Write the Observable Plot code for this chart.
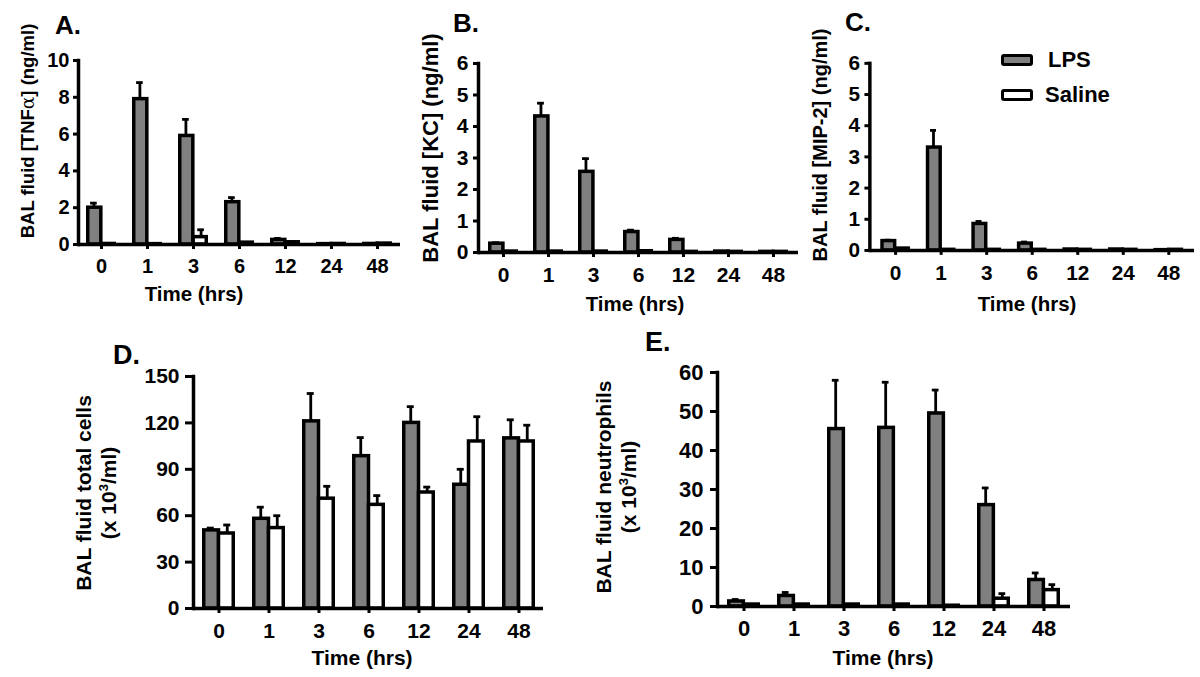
<!DOCTYPE html>
<html><head><meta charset="utf-8">
<script src="https://cdn.jsdelivr.net/npm/d3@7"></script>
<script src="https://cdn.jsdelivr.net/npm/@observablehq/plot@0.6"></script>
<style>
body{margin:0;background:#fff;}
#root{position:relative;width:1200px;height:677px;overflow:hidden;background:#fff;font-family:"Liberation Sans",Arial,sans-serif;font-weight:bold;color:#000;}
.abs{position:absolute;white-space:nowrap;line-height:1;}
.sup{font-size:0.62em;vertical-align:0.6em;line-height:0;}
</style></head><body><div id="root"></div>
<script>
// ---- data ----
const times = ["0","1","3","6","12","24","48"];

const tnfLps    = [2.0, 7.9, 5.9, 2.3, 0.25, 0.02, 0.03];
const tnfLpsErr = [0.25, 0.9, 0.9, 0.25, 0.08, 0, 0];
const tnfSal    = [0.03, 0.02, 0.4, 0.1, 0.12, 0.03, 0.05];
const tnfSalErr = [0, 0, 0.4, 0, 0.03, 0, 0];

const kcLps    = [0.28, 4.32, 2.56, 0.65, 0.4, 0.03, 0.02];
const kcLpsErr = [0.03, 0.42, 0.42, 0.06, 0.05, 0, 0];
const kcSal    = [0.03, 0.03, 0.03, 0.04, 0.02, 0.02, 0.02];
const kcSalErr = [0, 0, 0, 0, 0, 0, 0];

const mipLps    = [0.3, 3.3, 0.85, 0.22, 0.03, 0.03, 0.01];
const mipLpsErr = [0.03, 0.55, 0.08, 0.05, 0, 0, 0];
const mipSal    = [0.06, 0.02, 0.02, 0.02, 0.02, 0.02, 0.02];
const mipSalErr = [0, 0, 0, 0, 0, 0, 0];

const cellsLps    = [50.5, 58, 121, 98.5, 120, 80, 110];
const cellsLpsErr = [1.5, 7.5, 18, 12, 10.5, 10, 12];
const cellsSal    = [48.5, 52, 71, 67, 75, 108, 108];
const cellsSalErr = [5.5, 8, 8, 6, 3.5, 16, 10.5];

const neuLps    = [1.3, 2.7, 45.5, 45.8, 49.5, 26, 6.8];
const neuLpsErr = [0.5, 0.9, 12.5, 11.7, 6, 4.4, 1.8];
const neuSal    = [0.5, 0.5, 0.5, 0.5, 0.2, 2, 4.2];
const neuSalErr = [0, 0, 0, 0, 0, 1.3, 1.4];

const ticksA = [0, 2, 4, 6, 8, 10];
const ticksBC = [0, 1, 2, 3, 4, 5, 6];
const ticksD = [0, 30, 60, 90, 120, 150];
const ticksE = [0, 10, 20, 30, 40, 50, 60];

// ---- drawing ----
const root = document.getElementById("root");
const PAD = 0.34;
const SW = 3.5;

function panel(p) {
  const left = p.L - 62, top = p.T - 14;
  const width = p.R + 6 - left, height = p.B + 44 - top;
  const data = times.map((t, i) => ({time: t, lps: p.lps[i], lpsErr: p.lpsErr[i], sal: p.sal[i], salErr: p.salErr[i]}));
  const step = (p.R - p.L) / times.length, bw = step * (1 - PAD), half = bw / 2, q = half / 2, cap = 7;
  const lpsE = data.filter(d => d.lpsErr > 0), salE = data.filter(d => d.salErr > 0);
  const svg = Plot.plot({
    width, height,
    marginLeft: p.L - left, marginRight: width - (p.R - left),
    marginTop: p.T - top, marginBottom: height - (p.B - top),
    x: {type: "band", domain: times, paddingInner: PAD, paddingOuter: PAD / 2},
    y: {domain: [0, p.ymax]},
    style: {fontFamily: '"Liberation Sans", Arial, sans-serif', fontWeight: "bold", fontSize: p.fs + "px", color: "#000", background: "transparent", overflow: "visible"},
    marks: [
      Plot.barY(data, {x: "time", y: "lps", fill: "#808080", stroke: "#000", strokeWidth: SW, insetLeft: SW / 2, insetRight: half}),
      Plot.barY(data, {x: "time", y: "sal", fill: "#fff", stroke: "#000", strokeWidth: SW, insetLeft: half, insetRight: SW / 2}),
      Plot.ruleX(lpsE, {x: "time", y1: "lps", y2: d => d.lps + d.lpsErr, dx: -q, strokeWidth: 2.8}),
      Plot.ruleX(salE, {x: "time", y1: "sal", y2: d => d.sal + d.salErr, dx: q, strokeWidth: 2.8}),
      Plot.tickY(lpsE, {x: "time", y: d => d.lps + d.lpsErr, insetLeft: q - cap / 2, insetRight: bw - q - cap / 2, strokeWidth: 2.8}),
      Plot.tickY(salE, {x: "time", y: d => d.sal + d.salErr, insetLeft: half + q - cap / 2, insetRight: q - cap / 2, strokeWidth: 2.8}),
      Plot.ruleY([0], {strokeWidth: SW}),
      Plot.frame({anchor: "left", strokeWidth: SW}),
      Plot.axisY(p.yticks, {tickSize: p.yts, tickPadding: p.ytp, strokeWidth: 3, label: null}),
      Plot.axisX({tickSize: 5, tickPadding: p.xtp, strokeWidth: 3, label: null})
    ]
  });
  const wrap = document.createElement("div");
  wrap.style.position = "absolute";
  wrap.style.left = left + "px";
  wrap.style.top = top + "px";
  wrap.appendChild(svg);
  root.appendChild(wrap);
}

panel({L: 78, R: 400, T: 60, B: 244, ymax: 10, yticks: ticksA, fs: 20, yts: 5, ytp: 4, xtp: 9,
  lps: tnfLps, lpsErr: tnfLpsErr, sal: tnfSal, salErr: tnfSalErr});
panel({L: 478, R: 798, T: 63, B: 252, ymax: 6, yticks: ticksBC, fs: 21, yts: 5, ytp: 5, xtp: 10,
  lps: kcLps, lpsErr: kcLpsErr, sal: kcSal, salErr: kcSalErr});
panel({L: 870, R: 1198, T: 63, B: 252, ymax: 6, yticks: ticksBC, fs: 21, yts: 5, ytp: 5, xtp: 10,
  lps: mipLps, lpsErr: mipLpsErr, sal: mipSal, salErr: mipSalErr});
panel({L: 193, R: 543, T: 376, B: 608, ymax: 150, yticks: ticksD, fs: 21, yts: 8, ytp: 6, xtp: 10,
  lps: cellsLps, lpsErr: cellsLpsErr, sal: cellsSal, salErr: cellsSalErr});
panel({L: 717, R: 1070, T: 372, B: 606, ymax: 60, yticks: ticksE, fs: 22, yts: 7, ytp: 7, xtp: 9,
  lps: neuLps, lpsErr: neuLpsErr, sal: neuSal, salErr: neuSalErr});

function label(html, x, y, size, opts = {}) {
  const d = document.createElement("div");
  d.className = "abs";
  d.innerHTML = html;
  d.style.left = x + "px";
  d.style.top = y + "px";
  d.style.fontSize = size + "px";
  if (opts.lh) { d.style.lineHeight = opts.lh + "px"; d.style.textAlign = "center"; }
  d.style.transform = opts.anchorLeft ? "translate(0,-50%)" : ("translate(-50%,-50%)" + (opts.rotate ? " rotate(-90deg)" : ""));
  root.appendChild(d);
}

// panel letters
label("A.", 55, 25, 26, {anchorLeft: true});
label("B.", 453, 23, 26, {anchorLeft: true});
label("C.", 845, 22, 26, {anchorLeft: true});
label("D.", 113, 355, 27, {anchorLeft: true});
label("E.", 645, 342, 27, {anchorLeft: true});

// y titles
label('BAL fluid [TNF<span style="font-family:\'DejaVu Serif\',serif;font-weight:normal">α</span>] (ng/ml)', 28, 131, 18.5, {rotate: true});
label("BAL fluid [KC] (ng/ml)", 431, 148, 22, {rotate: true});
label("BAL fluid [MIP-2] (ng/ml)", 820, 145, 20, {rotate: true});
label('BAL fluid total cells<br>(x 10<span class="sup">3</span>/ml)', 95.5, 493, 21, {rotate: true, lh: 25});
label('BAL fluid neutrophils<br>(x 10<span class="sup">3</span>/ml)', 615.5, 487, 21, {rotate: true, lh: 25});

// x titles
label("Time (hrs)", 194, 294, 20.5);
label("Time (hrs)", 635, 304, 20.5);
label("Time (hrs)", 1027, 304, 20.5);
label("Time (hrs)", 362, 657, 21);
label("Time (hrs)", 883, 657, 21);

// legend
function swatch(x, y, fill) {
  const s = document.createElement("div");
  s.style.cssText = `position:absolute;left:${x}px;top:${y}px;width:32px;height:12px;box-sizing:border-box;border:3.5px solid #000;border-radius:3px;background:${fill};`;
  root.appendChild(s);
}
swatch(1001, 54, "#808080");
swatch(1001, 89, "#fff");
label("LPS", 1048, 60, 22, {anchorLeft: true});
label("Saline", 1045, 95, 22, {anchorLeft: true});
</script>
</body></html>
